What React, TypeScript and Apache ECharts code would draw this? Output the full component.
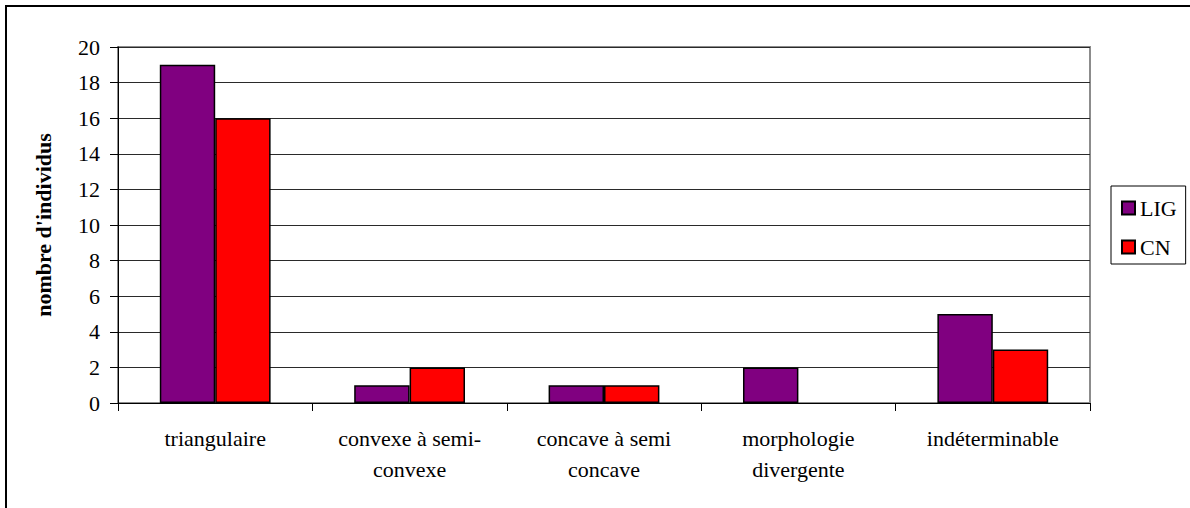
import React, { useEffect, useRef } from "react";
import * as echarts from "echarts";

const categories = [
  "triangulaire",
  "convexe à semi-\nconvexe",
  "concave à semi\nconcave",
  "morphologie\ndivergente",
  "indéterminable",
];
const ligValues = [19, 1, 1, 2, 5];
const cnValues = [16, 2, 1, 0, 3];
const seriesNames = ["LIG", "CN"];
const yAxisName = "nombre d'individus";

const FONT = "'Liberation Serif', 'Times New Roman', serif";

const toBars = (arr: number[]) => arr.map((v) => (v === 0 ? null : v));

export default function App() {
  const ref = useRef<HTMLDivElement>(null);
  useEffect(() => {
    if (!ref.current) return;
    const chart = echarts.init(ref.current, null, { renderer: "svg" });
    chart.setOption({
      animation: false,
      backgroundColor: "#ffffff",
      textStyle: { fontFamily: FONT },
      graphic: [
        {
          type: "rect",
          shape: { x: 6, y: 6, width: 1250, height: 600 },
          style: { fill: "none", stroke: "#000", lineWidth: 2 },
          silent: true,
          z: 100,
        },
      ],
      grid: {
        left: 118,
        top: 47,
        right: 100,
        bottom: 105,
        show: true,
        borderColor: "#8c8c8c",
        borderWidth: 2,
        backgroundColor: "transparent",
      },
      legend: {
        orient: "vertical",
        left: 1111,
        top: 186,
        padding: [11, 9, 6, 10],
        borderColor: "#000",
        borderWidth: 1,
        itemWidth: 13,
        itemHeight: 13,
        itemGap: 17,
        icon: "rect",
        textStyle: { fontFamily: FONT, fontSize: 22, color: "#000" },
        data: seriesNames,
      },
      xAxis: {
        type: "category",
        data: categories,
        axisLine: { show: true, lineStyle: { color: "#000", width: 1 } },
        axisTick: { show: true, length: 8, lineStyle: { color: "#000" } },
        axisLabel: {
          fontFamily: FONT,
          fontSize: 22,
          color: "#000",
          margin: 20,
          lineHeight: 31,
          interval: 0,
        },
        splitLine: { show: false },
      },
      yAxis: {
        type: "value",
        min: 0,
        max: 20,
        interval: 2,
        name: yAxisName,
        nameLocation: "middle",
        nameGap: 64,
        nameTextStyle: { fontFamily: FONT, fontSize: 22, fontWeight: "bold", color: "#000" },
        axisLine: { show: true, lineStyle: { color: "#000", width: 1 } },
        axisTick: { show: true, length: 8, lineStyle: { color: "#000" } },
        axisLabel: { fontFamily: FONT, fontSize: 22, color: "#000", margin: 18 },
        splitLine: { show: true, lineStyle: { color: "#2a2a2a", width: 1 } },
      },
      series: [
        {
          name: seriesNames[0],
          type: "bar",
          data: toBars(ligValues),
          barGap: "0%",
          barCategoryGap: "43%",
          itemStyle: { color: "#800080", borderColor: "#000", borderWidth: 1.5 },
        },
        {
          name: seriesNames[1],
          type: "bar",
          data: toBars(cnValues),
          barGap: "0%",
          barCategoryGap: "43%",
          itemStyle: { color: "#ff0000", borderColor: "#000", borderWidth: 1.5 },
        },
      ],
    });
    return () => chart.dispose();
  }, []);
  return (
    <div
      ref={ref}
      style={{ position: "fixed", left: 0, top: 0, width: 1190, height: 508, background: "#fff" }}
    />
  );
}
